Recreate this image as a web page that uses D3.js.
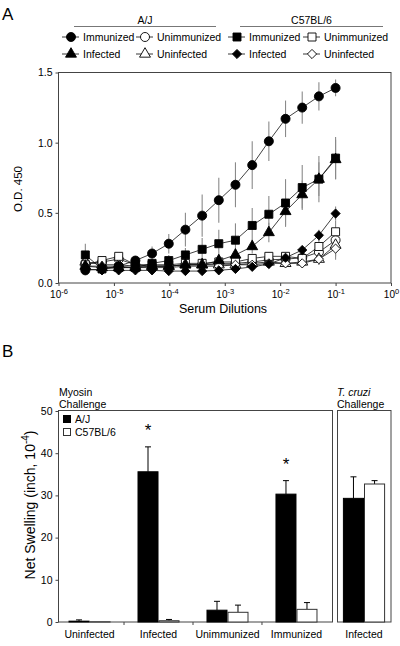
<!DOCTYPE html>
<html>
<head>
<meta charset="utf-8">
<script src="https://cdn.jsdelivr.net/npm/d3@7/dist/d3.min.js"></script>
<style>
  body { margin: 0; background: #fff; }
  svg { font-family: "Liberation Sans", Arial, sans-serif; }
</style>
</head>
<body>
<script>
// ---------------- Panel A data ----------------
const dilutions = [3.05e-6, 6.10e-6, 1.22e-5, 2.44e-5, 4.88e-5, 9.77e-5, 1.95e-4, 3.91e-4,
                   7.81e-4, 1.56e-3, 3.13e-3, 6.25e-3, 1.25e-2, 2.5e-2, 5e-2, 1e-1];
const ajImmunized     = [0.09, 0.10, 0.12, 0.16, 0.21, 0.28, 0.38, 0.48, 0.59, 0.70, 0.84, 1.01, 1.17, 1.25, 1.33, 1.39];
const ajImmunizedErr  = [0.02, 0.02, 0.02, 0.03, 0.05, 0.07, 0.12, 0.15, 0.16, 0.16, 0.17, 0.14, 0.13, 0.115, 0.10, 0.06];
const ajUnimmunized   = [0.14, 0.15, 0.17, 0.13, 0.12, 0.12, 0.13, 0.13, 0.14, 0.14, 0.15, 0.165, 0.17, 0.18, 0.22, 0.305];
const ajUnimmunizedErr= [0.02, 0.02, 0.02, 0.02, 0.02, 0.02, 0.02, 0.02, 0.02, 0.02, 0.02, 0.03, 0.03, 0.03, 0.05, 0.08];
const ajInfected      = [0.12, 0.11, 0.11, 0.11, 0.12, 0.12, 0.13, 0.13, 0.16, 0.20, 0.26, 0.36, 0.51, 0.63, 0.74, 0.88];
const ajInfectedErr   = [0.02, 0.02, 0.02, 0.02, 0.02, 0.02, 0.03, 0.03, 0.04, 0.05, 0.05, 0.07, 0.10, 0.10, 0.12, 0.14];
const ajUninfected    = [0.15, 0.13, 0.13, 0.12, 0.12, 0.12, 0.13, 0.13, 0.13, 0.13, 0.14, 0.15, 0.14, 0.15, 0.17, 0.27];
const ajUninfectedErr = [0.02, 0.02, 0.02, 0.02, 0.02, 0.02, 0.02, 0.02, 0.02, 0.02, 0.02, 0.02, 0.03, 0.03, 0.04, 0.08];
const c57Immunized    = [0.20, 0.10, 0.11, 0.11, 0.14, 0.16, 0.20, 0.24, 0.28, 0.305, 0.41, 0.49, 0.57, 0.68, 0.74, 0.89];
const c57ImmunizedErr = [0.08, 0.02, 0.02, 0.02, 0.03, 0.04, 0.05, 0.08, 0.10, 0.12, 0.125, 0.13, 0.17, 0.16, 0.165, 0.15];
const c57Unimmunized  = [0.13, 0.16, 0.19, 0.13, 0.13, 0.13, 0.14, 0.14, 0.15, 0.15, 0.175, 0.19, 0.19, 0.175, 0.26, 0.365];
const c57UnimmunizedErr=[0.02, 0.02, 0.02, 0.02, 0.02, 0.02, 0.02, 0.02, 0.02, 0.02, 0.02, 0.03, 0.03, 0.03, 0.05, 0.08];
const c57Infected     = [0.10, 0.09, 0.09, 0.09, 0.09, 0.085, 0.085, 0.085, 0.09, 0.10, 0.115, 0.135, 0.18, 0.235, 0.34, 0.495];
const c57InfectedErr  = [0.02, 0.02, 0.02, 0.02, 0.02, 0.02, 0.02, 0.02, 0.02, 0.02, 0.02, 0.02, 0.03, 0.03, 0.04, 0.05];
const c57Uninfected   = [0.12, 0.12, 0.12, 0.11, 0.11, 0.11, 0.12, 0.12, 0.12, 0.13, 0.13, 0.14, 0.14, 0.14, 0.17, 0.245];
const c57UninfectedErr= [0.02, 0.02, 0.02, 0.02, 0.02, 0.02, 0.02, 0.02, 0.02, 0.02, 0.02, 0.02, 0.03, 0.03, 0.04, 0.08];
const yTicksA = [0.0, 0.5, 1.0, 1.5];
const xTickExponents = [-6, -5, -4, -3, -2, -1, 0];

// ---------------- Panel B data ----------------
const groupsB = ["Uninfected", "Infected", "Unimmunized", "Immunized"];
const ajMyosin     = [0.2, 35.6, 2.8, 30.3];
const ajMyosinErr  = [0.3, 5.9, 2.1, 3.2];
const c57Myosin    = [0.05, 0.3, 2.3, 3.0];
const c57MyosinErr = [0, 0.3, 1.7, 1.6];
const cruziGroups  = ["Infected"];
const ajCruzi      = [29.3];
const ajCruziErr   = [5.1];
const c57Cruzi     = [32.7];
const c57CruziErr  = [0.8];
const yTicksB = [0, 10, 20, 30, 40, 50];
const asteriskGroups = ["Infected", "Immunized"];
const asteriskLevels = [46.5, 38.3];

// ---------------- drawing ----------------
const svg = d3.select("body").append("svg").attr("width", 400).attr("height", 646);
const axisColor = "#444";

// Panel letters
svg.append("text").attr("x", 2).attr("y", 20).attr("font-size", 17).text("A");
svg.append("text").attr("x", 2).attr("y", 357).attr("font-size", 17).text("B");

// ===== Panel A =====
const xA = d3.scaleLog().domain([1e-6, 1]).range([58.5, 391]);
const yA = d3.scaleLinear().domain([0, 1.5]).range([283, 72.5]);

// legend headers
const headers = [
  {label: "A/J", x1: 74, x2: 216},
  {label: "C57BL/6", x1: 240, x2: 383}
];
headers.forEach(h => {
  svg.append("text").attr("x", (h.x1 + h.x2) / 2).attr("y", 23.5).attr("text-anchor", "middle")
    .attr("font-size", 10.5).text(h.label);
  svg.append("line").attr("x1", h.x1).attr("x2", h.x2).attr("y1", 26.5).attr("y2", 26.5)
    .attr("stroke", "#777").attr("stroke-width", 1);
});

const diamondPath = "M0,-4.6L4.6,0L0,4.6L-4.6,0Z";
function shapePath(kind) {
  if (kind === "circle") return d3.symbol(d3.symbolCircle, 64)();
  if (kind === "square") return d3.symbol(d3.symbolSquare, 64)();
  if (kind === "triangle") return d3.symbol(d3.symbolTriangle, 52)();
  return diamondPath;
}

const seriesA = [
  {name: "Unimmunized", strain: "A/J",     vals: ajUnimmunized,  err: ajUnimmunizedErr,  shape: "circle",   filled: false, col: 1, row: 0},
  {name: "Uninfected",  strain: "A/J",     vals: ajUninfected,   err: ajUninfectedErr,   shape: "triangle", filled: false, col: 1, row: 1},
  {name: "Unimmunized", strain: "C57BL/6", vals: c57Unimmunized, err: c57UnimmunizedErr, shape: "square",   filled: false, col: 3, row: 0},
  {name: "Uninfected",  strain: "C57BL/6", vals: c57Uninfected,  err: c57UninfectedErr,  shape: "diamond",  filled: false, col: 3, row: 1},
  {name: "Infected",    strain: "C57BL/6", vals: c57Infected,    err: c57InfectedErr,    shape: "diamond",  filled: true,  col: 2, row: 1},
  {name: "Infected",    strain: "A/J",     vals: ajInfected,     err: ajInfectedErr,     shape: "triangle", filled: true,  col: 0, row: 1},
  {name: "Immunized",   strain: "C57BL/6", vals: c57Immunized,   err: c57ImmunizedErr,   shape: "square",   filled: true,  col: 2, row: 0},
  {name: "Immunized",   strain: "A/J",     vals: ajImmunized,    err: ajImmunizedErr,    shape: "circle",   filled: true,  col: 0, row: 0}
];

// legend entries
const legMarkerX = [71, 145, 237, 312];
const legRowY = [37, 54];
seriesA.forEach(s => {
  const mx = legMarkerX[s.col], my = legRowY[s.row];
  svg.append("line").attr("x1", mx - 9).attr("x2", mx + 8).attr("y1", my).attr("y2", my)
    .attr("stroke", "#222").attr("stroke-width", 0.9);
  svg.append("path").attr("d", shapePath(s.shape))
    .attr("transform", `translate(${mx},${my})`)
    .attr("fill", s.filled ? "#000" : "#fff").attr("stroke", "#000").attr("stroke-width", 0.9);
  svg.append("text").attr("x", mx + 12).attr("y", my + 3.8).attr("font-size", 10.5).text(s.name);
});

// frame
svg.append("rect").attr("x", 58.5).attr("y", 72.5).attr("width", 332.5).attr("height", 210.5)
  .attr("fill", "none").attr("stroke", axisColor).attr("stroke-width", 1);

// y axis A
const yAxisA = svg.append("g").attr("transform", "translate(58.5,0)")
  .call(d3.axisLeft(yA).tickValues(yTicksA).tickFormat(d3.format(".1f")).tickSize(3).tickPadding(3));
yAxisA.select(".domain").remove();
yAxisA.selectAll(".tick line").attr("stroke", axisColor);
yAxisA.selectAll(".tick text").attr("font-size", 10.5).attr("font-family", "Liberation Sans, Arial, sans-serif").attr("fill", "#000");

// x axis A
const xAxisA = svg.append("g").attr("transform", "translate(0,283)")
  .call(d3.axisBottom(xA).tickValues(xTickExponents.map(e => Math.pow(10, e))).tickSize(3).tickFormat(() => ""));
xAxisA.select(".domain").remove();
xAxisA.selectAll(".tick line").attr("stroke", axisColor);
xAxisA.selectAll(".tick").each(function(d) {
  const e = Math.round(Math.log10(d));
  const t = d3.select(this).append("text").attr("y", 15).attr("text-anchor", "middle")
    .attr("font-size", 10).attr("fill", "#000").attr("font-family", "Liberation Sans, Arial, sans-serif");
  t.append("tspan").text("10");
  t.append("tspan").attr("dy", -4.5).attr("font-size", 7.5).text(String(e));
});

svg.append("text").attr("x", 223).attr("y", 313).attr("text-anchor", "middle")
  .attr("font-size", 12.5).text("Serum Dilutions");
svg.append("text").attr("transform", "translate(22,189) rotate(-90)").attr("text-anchor", "middle")
  .attr("font-size", 11.5).text("O.D. 450");

// error bars (grey) first
const gA = svg.append("g");
seriesA.forEach(s => {
  gA.append("g").selectAll("line").data(dilutions).join("line")
    .attr("x1", d => xA(d)).attr("x2", d => xA(d))
    .attr("y1", (d, i) => yA(s.vals[i] - s.err[i]))
    .attr("y2", (d, i) => yA(s.vals[i] + s.err[i]))
    .attr("stroke", "#8a8a8a").attr("stroke-width", 1.1);
});
const lineGen = d3.line().x(d => xA(d[0])).y(d => yA(d[1]));
seriesA.forEach(s => {
  const pts = dilutions.map((d, i) => [d, s.vals[i]]);
  gA.append("path").attr("d", lineGen(pts)).attr("fill", "none")
    .attr("stroke", "#111").attr("stroke-width", 0.8);
});
seriesA.forEach(s => {
  gA.append("g").selectAll("path").data(dilutions).join("path")
    .attr("d", shapePath(s.shape))
    .attr("transform", (d, i) => `translate(${xA(d)},${yA(s.vals[i])})`)
    .attr("fill", s.filled ? "#000" : "#fff").attr("stroke", "#000").attr("stroke-width", 0.9);
});

// ===== Panel B =====
const yB = d3.scaleLinear().domain([0, 50]).range([622, 411]);
const xB = d3.scaleBand().domain(groupsB).range([55, 331]).paddingInner(0.391).paddingOuter(0.196);
const xSub = d3.scaleBand().domain(["A/J", "C57BL/6"]).range([0, xB.bandwidth()]);
const xB2 = d3.scaleBand().domain(cruziGroups).range([337, 391]).paddingOuter(0.14);
const xSub2 = d3.scaleBand().domain(["A/J", "C57BL/6"]).range([0, xB2.bandwidth()]);

// panel labels
svg.append("text").attr("x", 59).attr("y", 396).attr("font-size", 10.5).text("Myosin");
svg.append("text").attr("x", 59).attr("y", 408).attr("font-size", 10.5).text("Challenge");
svg.append("text").attr("x", 337).attr("y", 396).attr("font-size", 10.5).attr("font-style", "italic").text("T. cruzi");
svg.append("text").attr("x", 337).attr("y", 408).attr("font-size", 10.5).text("Challenge");

// frames
svg.append("rect").attr("x", 58.5).attr("y", 410.5).attr("width", 274).attr("height", 211.5)
  .attr("fill", "none").attr("stroke", axisColor);
svg.append("rect").attr("x", 337.5).attr("y", 410.5).attr("width", 53.5).attr("height", 211.5)
  .attr("fill", "none").attr("stroke", axisColor);

const yAxisB = svg.append("g").attr("transform", "translate(58.5,0)")
  .call(d3.axisLeft(yB).tickValues(yTicksB).tickSize(3).tickPadding(3));
yAxisB.select(".domain").remove();
yAxisB.selectAll(".tick line").attr("stroke", axisColor);
yAxisB.selectAll(".tick text").attr("font-size", 10.5).attr("font-family", "Liberation Sans, Arial, sans-serif").attr("fill", "#000");

// x axis B (ticks between groups)
const xAxisB = svg.append("g").attr("transform", "translate(0,622)")
  .call(d3.axisBottom(xB).tickSize(0).tickPadding(9));
xAxisB.select(".domain").remove();
xAxisB.selectAll(".tick text").attr("font-size", 10.5).attr("font-family", "Liberation Sans, Arial, sans-serif").attr("fill", "#000");
groupsB.slice(1).forEach(g => {
  const bx = xB(g) - xB.step() * xB.paddingInner() / 2;
  svg.append("line").attr("x1", bx).attr("x2", bx).attr("y1", 622).attr("y2", 625)
    .attr("stroke", axisColor);
});
const xAxisB2 = svg.append("g").attr("transform", "translate(0,622)")
  .call(d3.axisBottom(xB2).tickSize(0).tickPadding(9));
xAxisB2.select(".domain").remove();
xAxisB2.selectAll(".tick text").attr("font-size", 10.5).attr("font-family", "Liberation Sans, Arial, sans-serif").attr("fill", "#000");

function drawBars(groups, xs, sub, aj, ajErr, c57, c57Err) {
  const g = svg.append("g");
  const strains = [
    {key: "A/J", vals: aj, err: ajErr, fill: "#000", stroke: "#000"},
    {key: "C57BL/6", vals: c57, err: c57Err, fill: "#fff", stroke: "#333"}
  ];
  strains.forEach(st => {
    groups.forEach((grp, i) => {
      const x0 = xs(grp) + sub(st.key);
      const w = sub.bandwidth();
      const v = st.vals[i];
      const cx = x0 + w / 2;
      if (st.err[i] > 0) {
        g.append("line").attr("x1", cx).attr("x2", cx).attr("y1", yB(v)).attr("y2", yB(v + st.err[i]))
          .attr("stroke", "#000").attr("stroke-width", 1);
        g.append("line").attr("x1", cx - 3).attr("x2", cx + 3).attr("y1", yB(v + st.err[i])).attr("y2", yB(v + st.err[i]))
          .attr("stroke", "#000").attr("stroke-width", 1);
      }
      g.append("rect").attr("x", x0 + 0.5).attr("y", yB(v)).attr("width", w - 1)
        .attr("height", Math.max(0, yB(0) - yB(v)))
        .attr("fill", st.fill).attr("stroke", st.stroke).attr("stroke-width", 1);
    });
  });
}
drawBars(groupsB, xB, xSub, ajMyosin, ajMyosinErr, c57Myosin, c57MyosinErr);
drawBars(cruziGroups, xB2, xSub2, ajCruzi, ajCruziErr, c57Cruzi, c57CruziErr);

// asterisks
asteriskGroups.forEach((g, i) => {
  svg.append("text").attr("x", xB(g) + xSub("A/J") + xSub.bandwidth() / 2)
    .attr("y", yB(asteriskLevels[i]) + 10).attr("text-anchor", "middle")
    .attr("font-size", 17).text("*");
});

// legend B
svg.append("rect").attr("x", 63.5).attr("y", 415.5).attr("width", 7).attr("height", 7).attr("fill", "#000").attr("stroke", "#000");
svg.append("text").attr("x", 75).attr("y", 422.5).attr("font-size", 10.5).text("A/J");
svg.append("rect").attr("x", 63.5).attr("y", 428.5).attr("width", 7).attr("height", 7).attr("fill", "#fff").attr("stroke", "#333");
svg.append("text").attr("x", 75).attr("y", 435.5).attr("font-size", 10.5).text("C57BL/6");

// y label B
const yl = svg.append("text").attr("transform", "translate(35,505) rotate(-90)").attr("text-anchor", "middle")
  .attr("font-size", 14);
yl.append("tspan").text("Net Swelling (inch,  10");
yl.append("tspan").attr("dy", -6).attr("font-size", 10).text("-4");
yl.append("tspan").attr("dy", 6).text(")");
</script>
</body>
</html>
